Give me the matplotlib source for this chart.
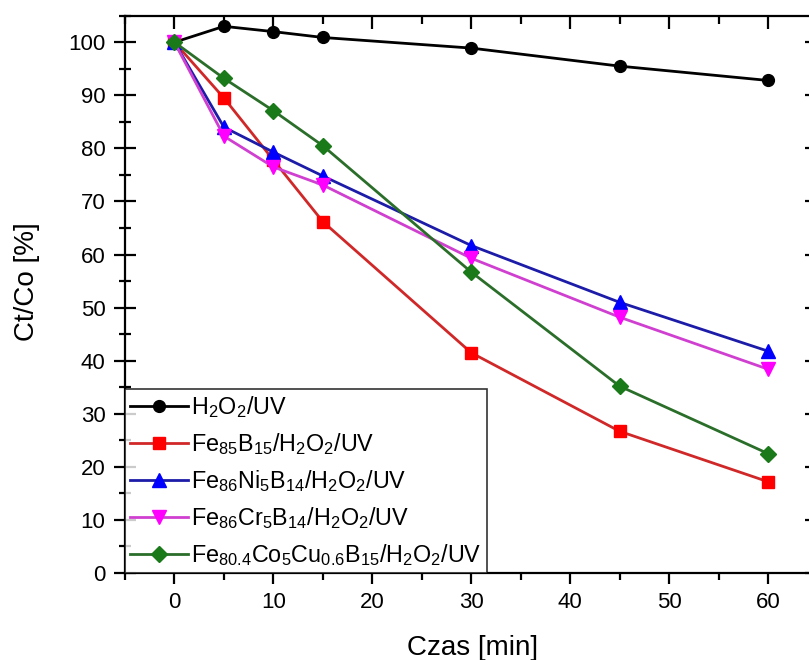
import matplotlib
matplotlib.use("Agg")
import matplotlib.pyplot as plt

plt.rcParams['font.family'] = ['Liberation Sans', 'DejaVu Sans']
plt.rcParams['mathtext.fontset'] = 'custom'
plt.rcParams['mathtext.rm'] = 'Liberation Sans'
plt.rcParams['mathtext.it'] = 'Liberation Sans'
plt.rcParams['mathtext.default'] = 'regular'

# sampling times [min]
czas = [0, 5, 10, 15, 30, 45, 60]

# Ct/Co [%] for each system
h2o2_uv = [100, 103.0, 102.0, 100.9, 98.9, 95.5, 92.8]
fe85b15 = [100, 89.5, 77.8, 66.2, 41.5, 26.7, 17.2]
fe86ni5b14 = [100, 84.0, 79.3, 74.8, 61.7, 51.0, 41.8]
fe86cr5b14 = [100, 82.3, 76.5, 73.1, 59.3, 48.2, 38.4]
fe804co5cu06b15 = [100, 93.2, 87.1, 80.5, 56.7, 35.2, 22.5]

labels = [r'H$_2$O$_2$/UV',
          r'Fe$_{85}$B$_{15}$/H$_2$O$_2$/UV',
          r'Fe$_{86}$Ni$_5$B$_{14}$/H$_2$O$_2$/UV',
          r'Fe$_{86}$Cr$_5$B$_{14}$/H$_2$O$_2$/UV',
          r'Fe$_{80.4}$Co$_5$Cu$_{0.6}$B$_{15}$/H$_2$O$_2$/UV']

series = [h2o2_uv, fe85b15, fe86ni5b14, fe86cr5b14, fe804co5cu06b15]
markers = ['o', 's', '^', 'v', 'D']
line_colors = ['#000000', '#d02828', '#1c1ca8', '#d040d0', '#2a6e2a']
face_colors = ['#000000', '#ff0000', '#0000ff', '#ff00ff', '#1a7a1a']
msizes = [8.5, 8, 9.5, 9.5, 8]

fig = plt.figure(figsize=(8.09, 6.6), dpi=100)
pos = [0.1545, 0.1318, 0.856, 0.8444]
ax = fig.add_axes(pos)

for y, m, lc, fc, ms, lab in zip(series, markers, line_colors, face_colors, msizes, labels):
    ax.plot(czas, y, color=lc, lw=2, marker=m, ms=ms, mfc=fc, mec=fc, label=lab)

ax.set_xlim(-5, 65)
ax.set_ylim(0, 105)
ax.set_xticks(range(0, 61, 10))
ax.set_xticks(range(-5, 66, 10), minor=True)
ax.set_yticks(range(0, 101, 10))
ax.set_yticks(range(5, 106, 10), minor=True)

for s in ax.spines.values():
    s.set_linewidth(1.6)
# the right edge falls outside the saved image
ax.spines['right'].set_visible(False)

ax.tick_params(axis='x', which='major', direction='out', length=8, width=1.6,
               labelsize=16, pad=6, top=False)
ax.tick_params(axis='x', which='minor', direction='out', length=5, width=1.6, top=False)
ax.tick_params(axis='y', which='major', direction='inout', length=16, width=1.6,
               labelsize=16, pad=6, right=False)
ax.tick_params(axis='y', which='minor', direction='inout', length=8, width=1.6, right=False)

# overlay axes carrying the inward ticks of the top and right edges
top = fig.add_axes(pos, frameon=False)
top.set_xlim(ax.get_xlim())
top.set_ylim(ax.get_ylim())
top.set_xticks(range(0, 61, 10))
top.set_xticks(range(-5, 66, 10), minor=True)
top.set_yticks(range(0, 101, 10))
top.set_yticks(range(5, 106, 10), minor=True)
top.tick_params(which='both', direction='in', width=1.6,
                bottom=False, left=False, top=True, right=True,
                labelbottom=False, labelleft=False)
top.tick_params(which='major', length=9)
top.tick_params(which='minor', length=6)
top.patch.set_visible(False)

ax.set_xlabel('Czas [min]', fontsize=20)
ax.xaxis.set_label_coords(0.502, -0.112)
ax.set_ylabel('Ct/Co [%]', fontsize=20)
ax.yaxis.set_label_coords(-0.123, 0.522)

leg = ax.legend(loc='lower left', fontsize=16.8, frameon=True, fancybox=False,
                borderaxespad=0, handlelength=2.5, handletextpad=0.15,
                labelspacing=0.48, borderpad=0.2)
leg.get_frame().set_edgecolor('black')
leg.get_frame().set_linewidth(1.2)

fig.savefig('out.png', dpi=100)
